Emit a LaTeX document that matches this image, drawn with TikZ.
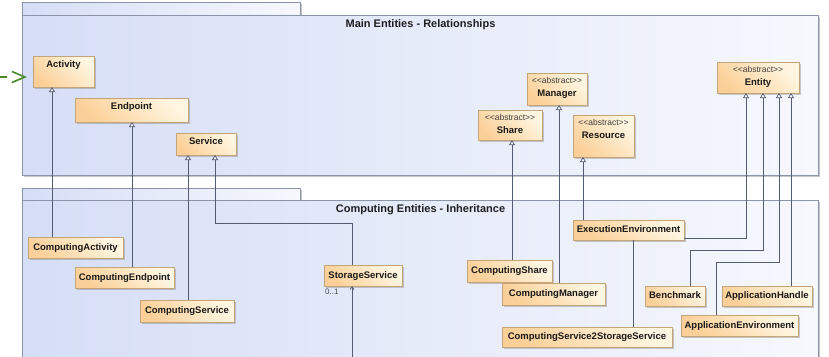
\documentclass[tikz,border=0pt]{standalone}
\usepackage{fontspec}
\setmainfont{Liberation Sans}
\usetikzlibrary{arrows.meta,shadows}
\definecolor{pkgL}{RGB}{214,222,246}
\definecolor{pkgR}{RGB}{246,248,253}
\definecolor{pkgEdge}{RGB}{140,148,170}
\definecolor{nodeL}{RGB}{251,208,152}
\definecolor{nodeR}{RGB}{255,246,226}
\definecolor{nodeEdge}{RGB}{196,164,120}
\definecolor{lineC}{RGB}{84,92,114}
\definecolor{gArrow}{RGB}{72,138,40}
\newcommand\abst{{\fontsize{8.5}{13}\selectfont\mdseries\color{black!75}<{}<abstract>{}>}}
\begin{document}
\begin{tikzpicture}[x=1pt,y=-1pt,
  pkg/.style={draw=pkgEdge, line width=0.7pt, left color=pkgL, right color=pkgR,
    drop shadow={shadow xshift=1.6pt, shadow yshift=-1.6pt, fill=black!50, opacity=0.45}},
  cls/.style={rectangle, draw=nodeEdge, line width=0.5pt, left color=nodeL, right color=nodeR,
    shading angle=135, inner sep=0pt, outer sep=0pt,
    font=\fontsize{9.5}{13}\selectfont\bfseries, text=black!90, text height=7pt, text depth=2pt,
    drop shadow={shadow xshift=1.6pt, shadow yshift=-1.6pt, fill=black!50, opacity=0.4}},
  nm/.style={anchor=north, inner sep=0pt, yshift=-4.5pt, align=center,
    font=\fontsize{9.5}{13}\selectfont\bfseries, text=black!90},
  ttl/.style={anchor=base, inner sep=0pt, font=\fontsize{11}{13}\selectfont\bfseries, text=black!88},
  gen/.style={draw=lineC, line width=0.7pt, -{Triangle[open, length=5pt, width=6pt, fill=white]}},
  assoc/.style={draw=lineC, line width=0.7pt},
]
\path[use as bounding box, clip] (0,0) rectangle (829,356);
\fill[white] (0,0) rectangle (829,356);

% packages
\draw[pkg] (22,2) rectangle (300,15);
\draw[pkg] (22,15) rectangle (818,175);
\draw[pkg] (22,188) rectangle (300,200);
\draw[pkg] (22,200) rectangle (818,372);
\node[ttl] (t1) at (420.5,27.7) {Main Entities - Relationships};
\node[ttl] (t2) at (420.5,212.3) {Computing Entities - Inheritance};

% main entities
\node[cls, minimum width=61, minimum height=31, label={[nm]north:Activity}] (act) at (63.5,71.5) {};
\node[cls, minimum width=113, minimum height=24, label={[nm]north:Endpoint}] (endp) at (131.5,110) {};
\node[cls, minimum width=60, minimum height=22, label={[nm]north:Service}] (serv) at (206,144) {};
\node[cls, minimum width=64, minimum height=30, label={[nm]north:{\abst\\Share}}] (share) at (510,125) {};
\node[cls, minimum width=60, minimum height=32, label={[nm]north:{\abst\\Manager}}] (mgr) at (557,89) {};
\node[cls, minimum width=61, minimum height=42, label={[nm]north:{\abst\\Resource}}] (res) at (603.5,136) {};
\node[cls, minimum width=82, minimum height=31, label={[nm]north:{\abst\\Entity}}] (ent) at (758,77.5) {};

% computing entities
\node[cls, minimum width=95, minimum height=21] (cact) at (75.5,247.5) {ComputingActivity};
\node[cls, minimum width=99, minimum height=21] (cend) at (124.5,277.5) {ComputingEndpoint};
\node[cls, minimum width=94, minimum height=22] (cserv) at (187,311) {ComputingService};
\node[cls, minimum width=78, minimum height=21] (stor) at (363,275.5) {StorageService};
\node[cls, minimum width=85, minimum height=22] (cshare) at (509.5,271) {ComputingShare};
\node[cls, minimum width=103, minimum height=22] (cmgr) at (553.5,294) {ComputingManager};
\node[cls, minimum width=111, minimum height=20] (exenv) at (628.5,230) {ExecutionEnvironment};
\node[cls, minimum width=170, minimum height=20] (c2s) at (587,337) {ComputingService2StorageService};
\node[cls, minimum width=60, minimum height=20] (bench) at (675,296) {Benchmark};
\node[cls, minimum width=90, minimum height=20] (apph) at (767,296) {ApplicationHandle};
\node[cls, minimum width=117, minimum height=21] (appenv) at (739.5,325.5) {ApplicationEnvironment};

% generalizations
\draw[gen] ([xshift=-23.5]cact.north) -- ([xshift=-11.5]act.south);
\draw[gen] ([xshift=7.5]cend.north) -- ([xshift=0.5]endp.south);
\draw[gen] ([xshift=1]cserv.north) -- ([xshift=-18]serv.south);
\draw[gen] ([xshift=-11]stor.north) -- ++(0,-42) -| ([xshift=9]serv.south);
\draw[gen] ([xshift=2.5]cshare.north) -- ([xshift=2]share.south);
\draw[gen] ([xshift=5.5]cmgr.north) -- ([xshift=2]mgr.south);
\draw[gen] ([xshift=-45.5]exenv.north) -- ([xshift=-20.5]res.south);
\draw[gen] ([yshift=-8]exenv.east) -| ([xshift=-12]ent.south);
\draw[gen] ([xshift=15]bench.north) -- ++(0,-36) -| ([xshift=5]ent.south);
\draw[gen] ([xshift=-23.5]appenv.north) -- ++(0,-53) -| ([xshift=21]ent.south);
\draw[gen] ([xshift=24]apph.north) -- ([xshift=33]ent.south);

% associations
\draw[assoc] ([xshift=4.5]exenv.south) -- ([xshift=46]c2s.north);
\coordinate (sbot) at (352,360);
\draw[assoc, -{Straight Barb[length=3pt, width=4pt]}] (sbot) -- ([xshift=-11]stor.south);
\node[anchor=base west, inner sep=0pt, font=\fontsize{8}{9}\selectfont, text=black!70] (mult) at (325,294.5) {0..1};

% green pointer
\coordinate (gstart) at (0,77);
\draw[draw=gArrow, line width=1.6pt, dash pattern=on 7pt off 20pt,
  -{Straight Barb[length=13pt, width=11pt]}] (gstart) -- ([xshift=-6,yshift=-5.5]act.west);
\end{tikzpicture}
\end{document}
